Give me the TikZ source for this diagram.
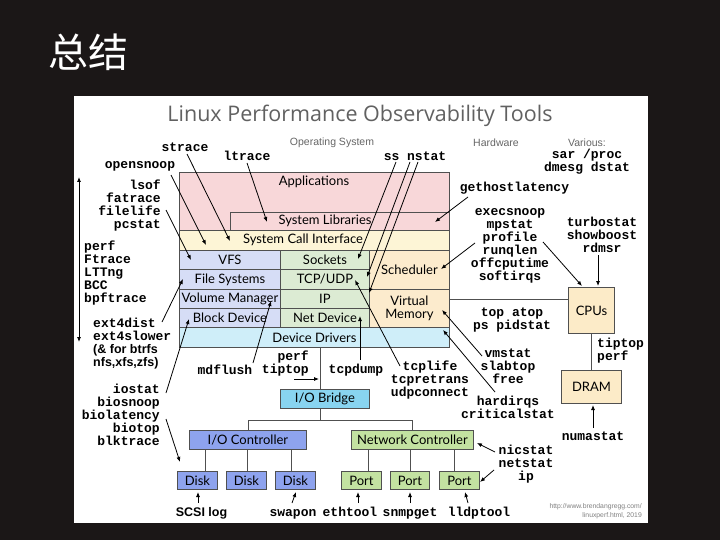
\documentclass[tikz,border=0pt]{standalone}
\usepackage{fontspec}
\usetikzlibrary{arrows.meta}
\newfontfamily\cjk{Noto Sans CJK SC}
\newfontfamily\latof{Lato}
\newfontfamily\opensf{Open Sans}
\newfontfamily\arialf{Liberation Sans}
\newfontfamily\monof{Liberation Mono}
\definecolor{bgc}{HTML}{1B1717}
\definecolor{bordc}{HTML}{505050}
\definecolor{appc}{HTML}{F8D7D9}
\definecolor{scic}{HTML}{FDF5D6}
\definecolor{fsc}{HTML}{D6DDF6}
\definecolor{netc}{HTML}{DCEBD3}
\definecolor{schc}{HTML}{FCEBCD}
\definecolor{ddc}{HTML}{CFEEF9}
\definecolor{iobc}{HTML}{88D4F0}
\definecolor{iocc}{HTML}{8EA3EE}
\definecolor{ncc}{HTML}{C3E2A1}
\definecolor{cpuc}{HTML}{FCEBC8}
\definecolor{titc}{HTML}{616161}
\definecolor{hdrc}{HTML}{666666}
\begin{document}
\begin{tikzpicture}[x=1pt,y=-1pt,
  bx/.style={draw=bordc,line width=0.9pt,inner sep=0,anchor=north west,align=center,
    font=\latof\fontsize{13}{12.5}\selectfont},
  boxt/.style={inner sep=0,font=\latof\fontsize{13}{12.5}\selectfont},
  lbl/.style={inner sep=0,align=center,font=\monof\bfseries\fontsize{13}{13}\selectfont},
  slbl/.style={inner sep=0,font=\arialf\bfseries\fontsize{12.5}{13}\selectfont},
  hdr/.style={inner sep=0,text=hdrc,font=\arialf\fontsize{10.5}{11}\selectfont},
  arr/.style={line width=0.8pt,-{Latex[length=5pt,width=4pt]}},
  ln/.style={draw=bordc,line width=0.9pt}]
\useasboundingbox (0,0) rectangle (720,540);
\fill[bgc] (0,0) rectangle (720,540);
\fill[white] (74,96) rectangle (648,523);
\node[inner sep=0,text=white,font=\cjk\fontsize{40}{40}\selectfont] (zongjie) at (88,52) {总结};
\node[inner sep=0,text=titc,font=\opensf\fontsize{21.5}{22}\selectfont,anchor=base] (title) at (360,122) {Linux Performance Observability Tools};
\node[hdr] (hos) at (332,143) {Operating System};
\node[hdr] (hhw) at (496,143) {Hardware};
\node[hdr] (hva) at (587,143) {Various:};

% stack
\node[bx,fill=appc,minimum width=270,minimum height=58] (apps) at (179,172) {};
\node[boxt] (appst) at (314,182) {Applications};
\node[bx,fill=appc,minimum width=219,minimum height=18] (syslib) at (230,212) {};
\node[boxt] (syslibt) at (325,221) {System Libraries};
\node[bx,fill=scic,minimum width=270,minimum height=20] (sci) at (179,230) {};
\node[boxt] (scit) at (303,240) {System Call Interface};
\node[bx,fill=fsc,minimum width=101,minimum height=19] (vfs) at (179,250) {VFS};
\node[bx,fill=fsc,minimum width=101,minimum height=20] (fs) at (179,269) {File Systems};
\node[bx,fill=fsc,minimum width=101,minimum height=19] (volm) at (179,289) {Volume Manager};
\node[bx,fill=fsc,minimum width=101,minimum height=19] (blk) at (179,308) {Block Device};
\node[bx,fill=netc,minimum width=89,minimum height=19] (sock) at (280,250) {Sockets};
\node[bx,fill=netc,minimum width=89,minimum height=20] (tcp) at (280,269) {TCP/UDP};
\node[bx,fill=netc,minimum width=89,minimum height=19] (ip) at (280,289) {IP};
\node[bx,fill=netc,minimum width=89,minimum height=19] (netd) at (280,308) {Net Device};
\node[bx,fill=schc,minimum width=80,minimum height=39] (sched) at (369,250) {Scheduler};
\node[bx,fill=schc,minimum width=80,minimum height=38] (vmem) at (369,289) {Virtual\\Memory};
\node[bx,fill=ddc,minimum width=270,minimum height=20] (dd) at (179,327) {Device Drivers};
\node[bx,fill=iobc,minimum width=89,minimum height=19] (iob) at (280,389) {I/O Bridge};
\node[bx,fill=iocc,minimum width=117,minimum height=19] (ioc) at (189,430) {I/O Controller};
\node[bx,fill=ncc,minimum width=122,minimum height=19] (nc) at (351,430) {Network Controller};
\node[bx,fill=iocc,minimum width=40,minimum height=18] (d1) at (177,471) {Disk};
\node[bx,fill=iocc,minimum width=40,minimum height=18] (d2) at (226,471) {Disk};
\node[bx,fill=iocc,minimum width=40,minimum height=18] (d3) at (275,471) {Disk};
\node[bx,fill=ncc,minimum width=40,minimum height=18] (p1) at (341,471) {Port};
\node[bx,fill=ncc,minimum width=39,minimum height=18] (p2) at (390,471) {Port};
\node[bx,fill=ncc,minimum width=40,minimum height=18] (p3) at (439,471) {Port};
\node[bx,fill=cpuc,minimum width=46,minimum height=46] (cpu) at (568,287) {CPUs};
\node[bx,fill=cpuc,minimum width=60,minimum height=33] (dram) at (561,370) {DRAM};

% bus lines
\coordinate (busx) at (320,0);
\draw[ln] (busx |- dd.south) -- (busx |- iob.north);
\draw[ln] (busx |- iob.south) -- (320,420);
\draw[ln] (ioc.north) -- (ioc.north |- 0,420) -- (nc.north |- 0,420) -- (nc.north);
\draw[ln] ([xshift=8pt]d1.north) -- ([xshift=8pt]d1.north |- ioc.south);
\draw[ln] ([xshift=1pt]d2.north) -- ([xshift=1pt]d2.north |- ioc.south);
\draw[ln] ([xshift=-4pt]d3.north) -- ([xshift=-4pt]d3.north |- ioc.south);
\draw[ln] ([xshift=7pt]p1.north) -- ([xshift=7pt]p1.north |- nc.south);
\draw[ln] ([xshift=0.5pt]p2.north) -- ([xshift=0.5pt]p2.north |- nc.south);
\draw[ln] ([xshift=-5pt]p3.north) -- ([xshift=-5pt]p3.north |- nc.south);
\draw[ln] ([yshift=9pt]vmem.east) -- ([yshift=9pt]vmem.east -| cpu.west);
\draw[ln] (cpu.south) -- (dram.north);

% labels
\node[lbl] (strace) at (185,147) {strace};
\node[lbl] (ltrace) at (247,156) {ltrace};
\node[lbl] (opensnoop) at (140,166) {opensnoop};
\node[lbl,align=right,anchor=east] (lsof) at (161,206) {lsof\\fatrace\\filelife\\pcstat};
\node[lbl,align=left,anchor=west] (perfl) at (84,273.5) {perf\\Ftrace\\LTTng\\BCC\\bpftrace};
\node[lbl,align=left,anchor=north west] (ext4) at (93,318) {ext4dist\\ext4slower};
\node[slbl,align=left,anchor=north west] (btrfs) at (93,344) {(\& for btrfs\\nfs,xfs,zfs)};
\node[lbl,align=right,anchor=east] (iostat) at (160,415) {iostat\\biosnoop\\biolatency\\biotop\\blktrace};
\node[lbl] (mdflush) at (225,370) {mdflush};
\node[lbl,align=right,anchor=east] (tiptopl) at (309,364) {perf\\tiptop};
\node[lbl] (tcpdump) at (356,370) {tcpdump};
\node[lbl] (tcplife) at (430,380.5) {tcplife\\tcpretrans\\udpconnect};
\node[lbl] (vmstat) at (508,366) {vmstat\\slabtop\\free};
\node[lbl] (hardirqs) at (508,407) {hardirqs\\criticalstat};
\node[lbl] (top) at (512,320.5) {top atop\\ps pidstat};
\node[lbl] (execsnoop) at (510,245.5) {execsnoop\\mpstat\\profile\\runqlen\\offcputime\\softirqs};
\node[lbl] (ghl) at (514.5,188) {gethostlatency};
\node[lbl] (turbo) at (602,235) {turbostat\\showboost\\rdmsr};
\node[lbl,align=left,anchor=west] (tiptopr) at (597,350.5) {tiptop\\perf};
\node[lbl] (numastat) at (593,436) {numastat};
\node[lbl] (sar) at (587,162) {sar /proc\\dmesg dstat};
\node[lbl] (ss) at (415,156) {ss nstat};
\node[lbl] (nicstat) at (526,464) {nicstat\\netstat\\ip};
\node[slbl,anchor=base] (scsi) at (201.5,516) {SCSI log};
\node[lbl,anchor=base] (swapon) at (293,516) {swapon};
\node[lbl,anchor=base] (ethtool) at (350,516) {ethtool};
\node[lbl,anchor=base] (snmpget) at (410,516) {snmpget};
\node[lbl,anchor=base] (lldptool) at (479,516) {lldptool};
\node[inner sep=0,text=gray,font=\arialf\fontsize{6.8}{7}\selectfont,anchor=east] (cred1) at (642,507) {http://www.brendangregg.com/};
\node[inner sep=0,text=gray,font=\arialf\fontsize{6.8}{7}\selectfont,anchor=east] (cred2) at (642,516) {linuxperf.html, 2019};

% arrow endpoints
\coordinate (s1) at (187,154);  \coordinate (t1) at (230,241);
\coordinate (s2) at (171,175);  \coordinate (t2) at (206,245);
\coordinate (s3) at (166,210);  \coordinate (t3) at (191,260);
\coordinate (s4) at (247,163);  \coordinate (t4) at (267,222);
\coordinate (s5) at (396,162);  \coordinate (t5) at (358,259);
\coordinate (s6) at (410,162);  \coordinate (t6) at (367,277);
\coordinate (s7) at (418,162);  \coordinate (t7) at (369,293);
\coordinate (s8) at (468,197);  \coordinate (t8) at (435,222);
\coordinate (s9) at (475,243);  \coordinate (t9) at (441,269);
\coordinate (s10) at (543,242); \coordinate (t10) at (582,286);
\coordinate (s11) at (598,255); \coordinate (t11) at (598,286);
\coordinate (s12) at (482,356); \coordinate (t12) at (442,310);
\coordinate (s13) at (495,392); \coordinate (t13) at (443,330);
\coordinate (s14) at (400,366); \coordinate (t14) at (355,280);
\coordinate (s15) at (360,360); \coordinate (t15) at (360,316);
\coordinate (s16) at (253,363); \coordinate (t16) at (271,301);
\coordinate (s17) at (162,322); \coordinate (t17) at (183,279);
\coordinate (s18) at (166,393); \coordinate (t18) at (189,319);
\coordinate (s19) at (166,419); \coordinate (t19) at (180,462);
\coordinate (s20) at (294,379); \coordinate (t20) at (319,379);
\coordinate (s21) at (198,503); \coordinate (t21) at (198,492);
\coordinate (s22) at (292,503); \coordinate (t22) at (296,492);
\coordinate (s23) at (358,503); \coordinate (t23) at (358,492);
\coordinate (s24) at (410,503); \coordinate (t24) at (410,492);
\coordinate (s25) at (468,503); \coordinate (t25) at (465,492);
\coordinate (s26) at (495,452); \coordinate (t26) at (477,443);
\coordinate (s27) at (494,470); \coordinate (t27) at (480,482);
\coordinate (s28) at (593,428); \coordinate (t28) at (593,405);
\coordinate (la1) at (79,177);  \coordinate (la2) at (79,342);

\foreach \i in {1,...,28} {\draw[arr] (s\i) -- (t\i);}
\draw[line width=0.8pt,{Latex[length=5pt,width=4pt]}-{Latex[length=5pt,width=4pt]}] (la1) -- (la2);
\end{tikzpicture}
\end{document}
